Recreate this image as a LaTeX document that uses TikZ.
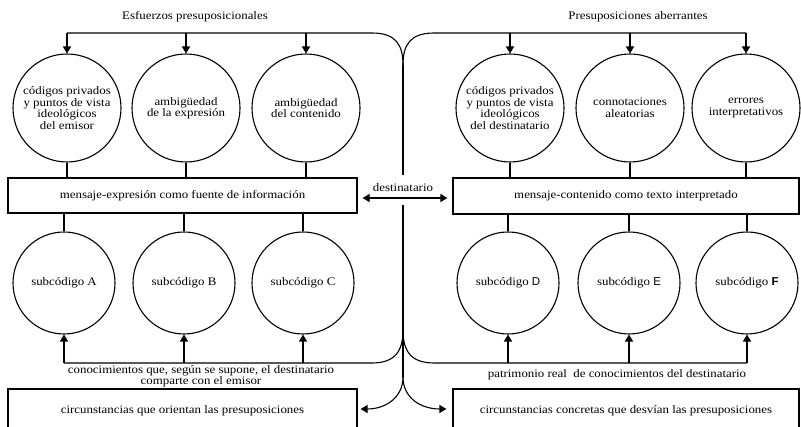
\documentclass[tikz,border=0pt]{standalone}
\usepackage{fontspec}
\setmainfont{Liberation Serif}[FakeStretch=1.12]
\setsansfont{Liberation Sans}
\usetikzlibrary{arrows.meta}
\tikzset{
  every node/.style={font=\fontsize{11.5}{11.5}\selectfont},
  bigc/.style={draw, circle, line width=1.1pt, minimum size=108pt, inner sep=0pt, align=center},
  smallc/.style={draw, circle, line width=1.1pt, minimum size=102pt, inner sep=0pt, align=center},
  boxn/.style={draw, rectangle, line width=1.1pt, inner sep=0pt},
  conn/.style={line width=1.1pt},
  arr/.style={line width=1.6pt, -{Triangle[width=8pt,length=7pt]}},
  darr/.style={line width=1.1pt, {Triangle[width=8pt,length=7pt]}-{Triangle[width=8pt,length=7pt]}},
  labeln/.style={inner sep=0pt, align=center}
}
\begin{document}
\begin{tikzpicture}[x=1pt,y=-1pt]
\useasboundingbox (0,0) rectangle (801,427);

% top circles
\node[bigc] (c1) at (67,108) {códigos privados\\y puntos de vista\\ideológicos\\del emisor};
\node[bigc] (c2) at (186,108) {ambigüedad\\de la expresión};
\node[bigc] (c3) at (306,108) {ambigüedad\\del contenido};
\node[bigc] (c4) at (510,108) {códigos privados\\y puntos de vista\\ideológicos\\del destinatario};
\node[bigc] (c5) at (630,108) {connotaciones\\aleatorias};
\node[bigc] (c6) at (746,108) {errores\\interpretativos};

% middle boxes
\node[boxn, minimum width=349pt, minimum height=35pt] (mexp) at (182.5,195.5) {mensaje-expresión como fuente de información};
\node[boxn, minimum width=346pt, minimum height=36pt] (mcon) at (626,196) {mensaje-contenido como texto interpretado};

% bottom circles
\node[smallc] (sA) at (64,283) {subcódigo A};
\node[smallc] (sB) at (184,283) {subcódigo B};
\node[smallc] (sC) at (303,283) {subcódigo C};
\node[smallc] (sD) at (508,283) {subcódigo {\sffamily D}};
\node[smallc] (sE) at (629,283) {subcódigo {\sffamily E}};
\node[smallc] (sF) at (747,283) {subcódigo {\sffamily\bfseries F}};

% bottom boxes
\node[boxn, minimum width=349pt, minimum height=44pt] (cir1) at (182.5,411) {circunstancias que orientan las presuposiciones};
\node[boxn, minimum width=346pt, minimum height=44pt] (cir2) at (626,411) {circunstancias concretas que desvían las presuposiciones};

% labels
\node[labeln] (l1) at (195,17) {Esfuerzos presuposicionales};
\node[labeln] (l2) at (638,17) {Presuposiciones aberrantes};
\node[labeln, font=\fontsize{11.5}{9.5}\selectfont] (l3) at (201,376) {conocimientos que, según se supone, el destinatario\\comparte con el emisor};
\node[labeln] (l4) at (617,375) {patrimonio real\ \ de conocimientos del destinatario};
\node[labeln] (dest) at (403,188) {destinatario};

% key points
\coordinate (topcusp) at (403,65);
\coordinate (midcusp) at (403,330);
\coordinate (lowcusp) at (403,377);
\coordinate (vtopend) at (403,175);
\coordinate (vbotstart) at (403,205);
\coordinate (tl) at (67,33);
\coordinate (tr) at (746,33);
\coordinate (bl) at (64,363);
\coordinate (br) at (747,363);

% top brackets
\draw[conn] (tl) -- (372,33) .. controls (396,33) and (403,45) .. (topcusp);
\draw[conn] (topcusp) .. controls (403,45) and (410,33) .. (434,33) -- (tr);
\draw[arr] (tl) -- (c1.north);
\draw[arr] (c2.north |- tl) -- (c2.north);
\draw[arr] (c3.north |- tl) -- (c3.north);
\draw[arr] (c4.north |- tr) -- (c4.north);
\draw[arr] (c5.north |- tr) -- (c5.north);
\draw[arr] (tr) -- (c6.north);

% central vertical line
\draw[conn] (topcusp) -- (vtopend);
\draw[conn] (vbotstart) -- (lowcusp);
\draw[darr] ([xshift=5pt]mexp.east |- 0,198) -- ([xshift=-5pt]mcon.west |- 0,198);

% circle to box connectors
\foreach \c in {c1,c2,c3}{\draw[conn] (\c.south) -- (\c.south |- mexp.north);}
\foreach \c in {c4,c5,c6}{\draw[conn] (\c.south) -- (\c.south |- mcon.north);}
\foreach \c in {sA,sB,sC}{\draw[conn] (\c.north |- mexp.south) -- (\c.north);}
\foreach \c in {sD,sE,sF}{\draw[conn] (\c.north |- mcon.south) -- (\c.north);}

% bottom brackets
\draw[conn] (bl) -- (372,363) .. controls (396,363) and (403,350) .. (midcusp);
\draw[conn] (midcusp) .. controls (403,350) and (410,363) .. (434,363) -- (br);
\draw[arr] (bl) -- (sA.south);
\draw[arr] (sB.south |- bl) -- (sB.south);
\draw[arr] (sC.south |- bl) -- (sC.south);
\draw[arr] (sD.south |- br) -- (sD.south);
\draw[arr] (sE.south |- br) -- (sE.south);
\draw[arr] (br) -- (sF.south);

% lowest cusp arrows
\draw[conn, -{Triangle[width=8pt,length=7pt]}] (lowcusp) .. controls (403,398) and (385,409) .. ([xshift=3pt]cir1.east |- 0,409);
\draw[conn, -{Triangle[width=8pt,length=7pt]}] (lowcusp) .. controls (403,398) and (421,409) .. ([xshift=-6pt]cir2.west |- 0,409);
\end{tikzpicture}
\end{document}
